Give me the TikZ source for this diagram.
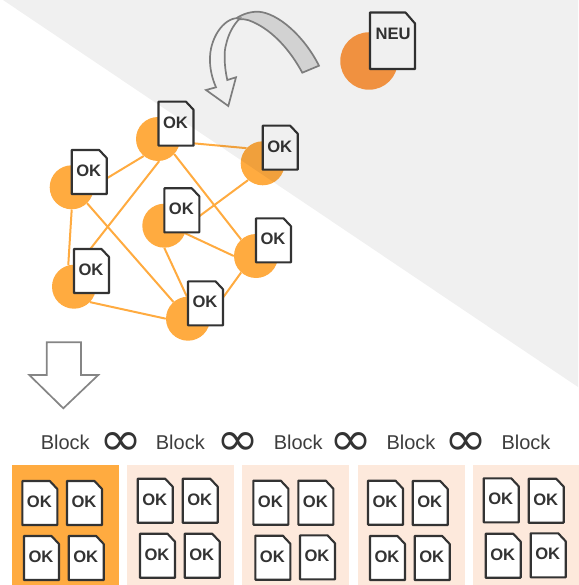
\documentclass[tikz,border=0pt]{standalone}
\usepackage{amsmath,amssymb}
\usepackage{fontspec}
\setmainfont{Liberation Sans}
\newfontfamily\chainfont{DejaVu Sans}

\definecolor{hubcol}{HTML}{FFAB40}
\definecolor{newcol}{HTML}{FF9B44}
\definecolor{blockcol}{HTML}{FDE9DC}
\definecolor{inkcol}{HTML}{333333}
\definecolor{arrowcol}{HTML}{858585}

\tikzset{
  hub/.style={circle, fill=hubcol, draw=none, minimum size=44pt, inner sep=0pt},
  link/.style={draw=hubcol, line width=2pt},
  sheet/.style={draw=inkcol, fill=white, line width=2.1pt, line join=round},
  sheetlab/.style={text=inkcol, font=\fontsize{16.6}{18}\selectfont\bfseries, inner sep=0pt},
  bigarrow/.style={draw=arrowcol, line width=1.7pt, line join=miter},
  blocklab/.style={text=inkcol!95, font=\fontsize{20}{22}\selectfont, inner sep=0pt},
  chainlab/.style={text=inkcol, inner sep=0pt},
  panel/.style={draw=none, fill=blockcol, minimum width=107pt, minimum height=121pt, inner sep=0pt}
}

% one sheet of paper with its corner cut off: name, left, top, text
\newcommand{\oksheet}[4]{
  \draw [sheet] (#2,#3) -- ++(27.5,0) -- ++(7.5,8) -- ++(0,36) -- ++(-35,0) -- cycle;
  \node [sheetlab] (#1) at (#2+17,#3+20.7) {#4};
}

\begin{document}
\begin{tikzpicture}[x=1pt,y=-1pt]
\useasboundingbox (0,0) rectangle (578,585);

% The network circles
\foreach \id/\x/\y in {
  nTop/158/139,
  nRight/262.7/163.3,
  nLeft/71.7/187.3,
  nMid/164.3/225.7,
  nLow/256/256,
  nDown/74/286.7,
  nFoot/188/318.7} {
  \node [hub] (\id) at (\x,\y) {};
}

% The links, each from circle to circle
\foreach \a/\b in {
  nTop.-8/nRight.137,
  nLeft.3/nTop.230,
  nTop.-87/nDown.80,
  nTop.-43/nLow.132,
  nLeft.-90/nDown.105,
  nLeft.-46/nFoot.131,
  nMid.0/nRight.229,
  nMid.-20/nLow.180,
  nMid.-90/nFoot.93,
  nLow.228/nFoot.8,
  nDown.-44/nFoot.180} {
  \draw [link] (\a) -- (\b);
}

% The sheets on the network
\foreach \id/\x/\y in {
  sTop/158.5/101.7,
  sRight/262.7/125.7,
  sLeft/71.7/150,
  sMid/164.3/188.3,
  sLow/256/218.3,
  sDown/74/249,
  sFoot/188/281.3} {
  \oksheet{\id}{\x}{\y}{OK}
}

% The new one at the top
\node [hub, fill=newcol, minimum size=57.5pt] (nNew) at (369,61) {};
\draw [sheet] (370,12.5) -- (405.5,12.5) -- (415,23.5) -- (415,69) -- (370,69) -- cycle;
\node [sheetlab] (sNew) at (393.2,34) {NEU};

% The curved arrow
\draw [bigarrow, fill=black!12] (319,65.7) .. controls (304,36) and (278,13) .. (258.3,11.7)
  .. controls (249,11.5) and (240,15) .. (233,20.7)
  .. controls (240,18) and (247,19) .. (253,22)
  .. controls (273,31) and (290,50) .. (302.3,72.7) -- cycle;
\draw [bigarrow, fill=white] (240,18.3) .. controls (226,16) and (211,35) .. (210,56.7)
  .. controls (209.5,68) and (212,78) .. (216,87.3)
  -- (206,90) -- (228.3,106) -- (236,77.3) -- (227.3,80)
  .. controls (224,66) and (224,50) .. (226,45)
  .. controls (228,35) and (233,25) .. (240,18.3) -- cycle;

% The straight arrow
\draw [bigarrow, fill=white] (46.7,342.3) -- (81,342.3) -- (81,375) -- (98.3,375)
  -- (63.3,408.3) -- (29.3,375) -- (46.7,375) -- cycle;

% The labels of the chain
\foreach \x [count=\i] in {65.3,180.3,298.2,411,526} {
  \node [blocklab] (block\i) at (\x,442) {Block};
}
\foreach \x [count=\i] in {121.3,238,350.5,466} {
  \node [chainlab] (chain\i) at (\x,444.4) {\resizebox{43pt}{23pt}{\chainfont ∞}};
}

% The blocks
\node [panel, fill=hubcol] (panelA) at (65.5,525) {};
\node [panel] (panelB) at (180.5,525) {};
\node [panel] (panelC) at (295.5,525) {};
\node [panel] (panelD) at (411.5,525) {};
\node [panel] (panelE) at (526,525) {};

% The sheets in the blocks
\foreach \x/\y [count=\i] in {
  22.3/481, 67/481, 24/536, 68.7/536,
  137.7/478.7, 182.7/478.7, 140/533.7, 184.7/533.7,
  253.3/480.7, 298.3/480.7, 255.3/535.7, 300/535.3,
  368/480.7, 412.7/481, 370/536, 414.7/536,
  483.7/478.3, 528.7/478.7, 485.7/533.7, 530.7/533.3} {
  \oksheet{sheet\i}{\x}{\y}{OK}
}

% The gray part lies over everything
\fill [black, opacity=0.06] (3,0) -- (578,0) -- (578,387) -- cycle;
\end{tikzpicture}
\end{document}
